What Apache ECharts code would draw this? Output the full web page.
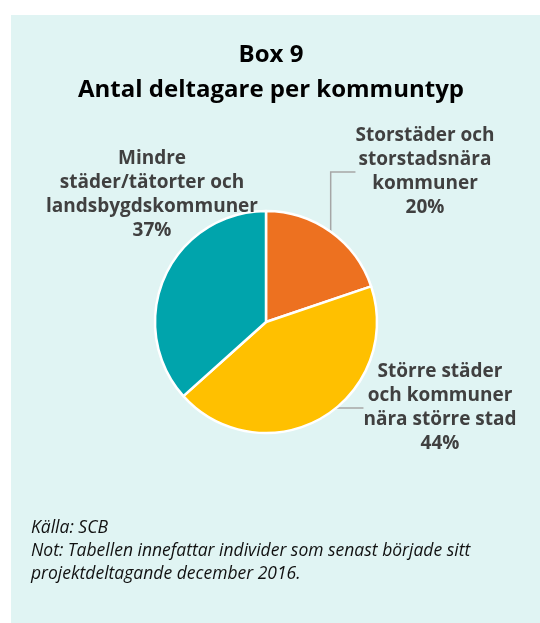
<!DOCTYPE html>
<html>
<head>
<meta charset="utf-8">
<script src="https://cdn.jsdelivr.net/npm/echarts@6/dist/echarts.min.js"></script>
<style>
  html,body{margin:0;padding:0;background:#fff;}
  #chart{width:540px;height:623px;}
</style>
</head>
<body>
<div id="chart"></div>
<script>
// data
let categories=[
    "Storstäder och\nstorstadsnära\nkommuner",
    "Större städer\noch kommuner\nnära större stad",
    "Mindre\nstäder/tätorter och\nlandsbygdskommuner"
];
let shares=[20,44,37];
let colors=["#ED7120","#FFC000","#00A4AC"];
let titleLines=["Box 9","Antal deltagare per kommuntyp"];
let noteLines=[
    "Källa: SCB",
    "Not: Tabellen innefattar individer som senast började sitt",
    "projektdeltagande december 2016."
];

// where each label block sits (centre)
let labelSpots=[[425,172],[440,408],[152,195]];

let chart=echarts.init(document.getElementById("chart"),null,{renderer:"canvas"});

let pieData=[];
for(let i=0;i<categories.length;i++){
    pieData.push({
        name:categories[i],
        value:shares[i],
        itemStyle:{color:colors[i]},
        labelLine:{show:i!==2}
    });
}

let notes=[];
for(let i=0;i<noteLines.length;i++){
    notes.push({
        type:"text",
        left:31,
        top:519+i*23,
        style:{
            text:noteLines[i],
            font:"italic 17.5px 'Open Sans', sans-serif",
            fill:"#111"
        }
    });
}

chart.setOption({
    backgroundColor:"#fff",
    animation:false,
    graphic:[{
        type:"rect",
        shape:{x:11,y:15,width:529,height:608},
        style:{fill:"#E0F4F3"},
        z:-10
    }].concat(notes),
    title:{
        text:titleLines.join("\n"),
        left:266,
        textAlign:"center",
        top:33,
        textStyle:{
            fontFamily:"'Open Sans', sans-serif",
            fontWeight:"bold",
            fontSize:24,
            lineHeight:35,
            color:"#000"
        }
    },
    series:[{
        type:"pie",
        center:[266,322],
        radius:[0,111],
        startAngle:90,
        clockwise:true,
        data:pieData,
        itemStyle:{borderColor:"#fff",borderWidth:2.5},
        label:{
            show:true,
            position:"outside",
            overflow:"none",
            formatter:function(p){return p.name+"\n"+p.value+"%";},
            fontFamily:"'Open Sans', sans-serif",
            fontWeight:"bold",
            fontSize:19,
            lineHeight:24,
            color:"#404040",
            align:"center"
        },
        labelLine:{
            show:true,
            lineStyle:{color:"#A6A6A6",width:1.5}
        },
        labelLayout:function(params){
            let spot=labelSpots[params.dataIndex];
            return {x:spot[0],y:spot[1],align:"center",verticalAlign:"middle"};
        }
    }]
});
</script>
</body>
</html>
